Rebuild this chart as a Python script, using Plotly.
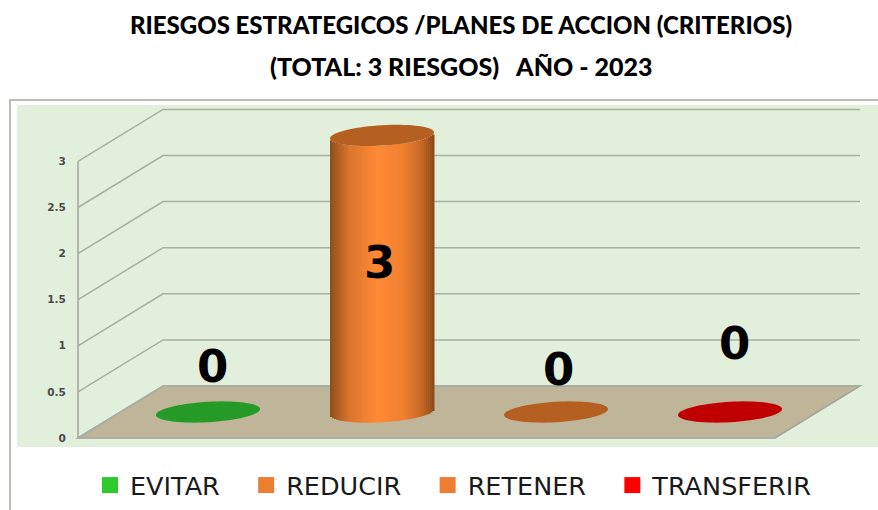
import plotly.graph_objects as go
import numpy as np

# ---- data ----
categories = ["EVITAR", "REDUCIR", "RETENER", "TRANSFERIR"]
values = [0, 3, 0, 0]
y_ticks = [0, 0.5, 1, 1.5, 2, 2.5, 3]
y_tick_labels = ["0", "0.5", "1", "1.5", "2", "2.5", "3"]
title_line1 = "RIESGOS ESTRATEGICOS /PLANES DE ACCION (CRITERIOS)"
title_line2 = "(TOTAL: 3 RIESGOS)   AÑO - 2023"

# ---- style ----
W, H = 878, 510
legend_colors = ["#2DC92D", "#ED7D31", "#ED7D31", "#FF0000"]
cap_colors = ["#269A26", "#B55F20", "#B55F20", "#C00000"]
wall_color = "#E2EFDA"
floor_color = "#BFB599"
grid_color = "#A9AFA2"
edge_color = "#A3A39B"
frame_color = "#BDBDB8"
label_shift = [(4, 46), (-3, 0), (2, 43), (4, 69)]  # label nudges, px
legend_pad = "\u00a0\u00a0\u2009"

# ---- scales (px -> axis) ----
slot = 174.0
x0_px = 208.0
x_range = [-x0_px / slot, (W - x0_px) / slot]
unit = 92.2
y0_front = 438.0
y_range = [-(H - y0_front) / unit, y0_front / unit]
y0_col = 412.0
y2_range = [-(H - y0_col) / unit, y0_col / unit]
depth_dx, depth_dy = 85 / slot, 52 / unit
wall_left = (78 - x0_px) / slot
wall_right_front = (775 - x0_px) / slot
semi_a, semi_b, tilt = 52.0, 10.2, 3.0


def ellipse_path(i, v):
    t = np.linspace(0, 2 * np.pi, 72, endpoint=False)
    xs = i + semi_a * np.cos(t) / slot
    ys = v + (tilt * np.cos(t) + semi_b * np.sin(t)) / unit
    return "M" + "L".join(f"{a:.4f},{b:.4f}" for a, b in zip(xs, ys)) + "Z"


def shade(u):
    stops_u = [0, 0.04, 0.18, 0.45, 0.7, 0.88, 1]
    r = np.interp(u, stops_u, [0x8E, 0xA0, 0xD8, 0xFF, 0xF2, 0xC8, 0x8A])
    g = np.interp(u, stops_u, [0x4C, 0x56, 0x74, 0x89, 0x80, 0x69, 0x4A])
    b = np.interp(u, stops_u, [0x1A, 0x1F, 0x2B, 0x35, 0x30, 0x26, 0x1A])
    return f"rgb({r:.0f},{g:.0f},{b:.0f})"


fig = go.Figure()

# wall + floor + frame
shapes = [
    dict(type="rect", xref="paper", yref="paper", x0=17 / W, x1=1, y0=1 - 447 / H, y1=1 - 105 / H,
         fillcolor=wall_color, line_width=0, layer="below"),
    dict(type="path", xref="paper", yref="paper", layer="below", line=dict(color=frame_color, width=2),
         path=f"M{10/W},0L{10/W},{1-100/H}L1,{1-100/H}"),
    dict(type="path", xref="x", yref="y", layer="below", fillcolor=floor_color,
         line=dict(color=edge_color, width=1.5),
         path=(f"M{wall_left},0L{wall_left+depth_dx},{depth_dy}"
               f"L{wall_right_front+depth_dx},{depth_dy}L{wall_right_front},0Z")),
    dict(type="line", xref="x", yref="y", layer="below", x0=wall_left, x1=wall_left, y0=0, y1=y_ticks[-1],
         line=dict(color=edge_color, width=1.5)),
]
for tv in y_ticks:
    shapes.append(dict(type="path", xref="x", yref="y", layer="below", line=dict(color=grid_color, width=1.5),
                       path=(f"M{wall_left},{tv}L{wall_left+depth_dx},{tv+depth_dy}"
                             f"L{wall_right_front+depth_dx},{tv+depth_dy}")))

# cylinder body as thin shaded bars, one trace per slice
n_slices = 52
half = semi_a / slot
positions = list(range(len(categories)))
for j in range(n_slices):
    u = (j + 0.5) / n_slices
    c = 2 * u - 1
    base = (tilt * c - semi_b * np.sqrt(1 - c * c)) / unit
    fig.add_trace(go.Bar(
        x=positions, y=values, base=[base if v > 0 else 0 for v in values], yaxis="y2",
        offset=-half + j * 2 * half / n_slices, width=2 * half / n_slices * 1.25,
        marker=dict(color=shade(u), line_width=0), showlegend=False, hoverinfo="skip"))

# tops of the columns
for i, v in enumerate(values):
    shapes.append(dict(type="path", xref="x", yref="y2", layer="above", path=ellipse_path(i, v),
                       fillcolor=cap_colors[i], line_width=0))

# legend entries
for name, col in zip(categories, legend_colors):
    fig.add_trace(go.Scatter(x=[None], y=[None], mode="markers", name=name + legend_pad,
                             marker=dict(symbol="square", size=17, color=col)))

annotations = [
    dict(x=i, y=v, xref="x", yref="y2", text=str(v), showarrow=False, xshift=label_shift[i][0],
         yshift=label_shift[i][1] + (0 if v == 0 else -127),
         font=dict(family="DejaVu Sans", size=45, color="#000000", weight="bold"))
    for i, v in enumerate(values)
]
annotations.append(dict(x=461 / W, y=1 - 66 / H, xref="paper", yref="paper", yanchor="middle", text=title_line2,
                        showarrow=False, font=dict(family="Lato", size=25, color="#000000", weight=900)))

fig.update_layout(
    width=W, height=H, margin=dict(l=0, r=0, t=0, b=0, autoexpand=False),
    paper_bgcolor="#FFFFFF", plot_bgcolor="rgba(0,0,0,0)",
    barmode="overlay", shapes=shapes, annotations=annotations,
    title=dict(text=title_line1, x=461 / W, xanchor="center", y=1 - 26 / H, yanchor="middle",
               font=dict(family="Lato", size=24, color="#000000", weight=900)),
    xaxis=dict(range=x_range, domain=[0, 1], visible=False),
    yaxis=dict(range=y_range, domain=[0, 1], anchor="free", position=78 / W, side="left",
               tickvals=y_ticks, ticktext=y_tick_labels, showgrid=False, zeroline=False, showline=False,
               ticks="outside", ticklen=10, tickcolor="rgba(0,0,0,0)",
               tickfont=dict(family="DejaVu Sans", size=10.5, color="#4A4A4A", weight="bold")),
    yaxis2=dict(range=y2_range, domain=[0, 1], overlaying="y", visible=False),
    legend=dict(orientation="h", x=90 / W, xanchor="left", y=1 - 462 / H, yanchor="top",
                font=dict(family="DejaVu Sans", size=25.5, color="#1A1A1A"), itemsizing="trace",
                bgcolor="rgba(0,0,0,0)", traceorder="normal"),
)
fig.write_html("out.html", post_script="document.body.style.margin='0';",
               config={"displayModeBar": False})
